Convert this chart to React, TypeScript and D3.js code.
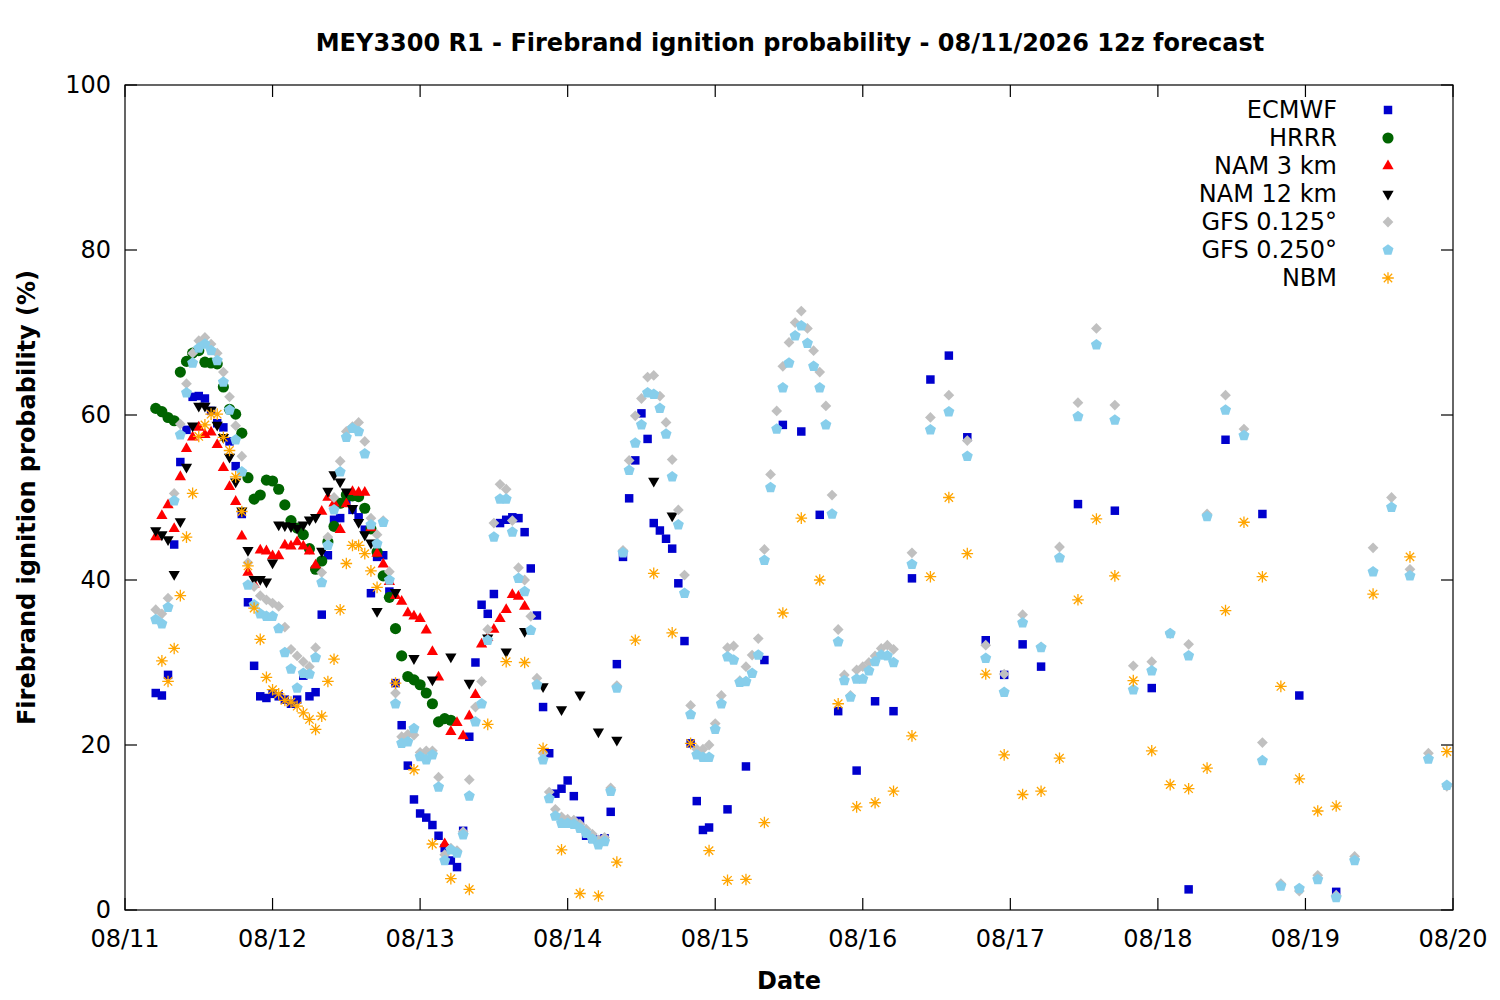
import React, { useEffect, useRef } from 'react';
import * as d3 from 'd3';

// forecast lead hours counted from 08/11 00:00 local (12z run = 05 local)
const ECMWF_HOURS = [...d3.range(5, 96), ...d3.range(98, 150, 3), ...d3.range(155, 198, 6)];
const HRRR_HOURS = d3.range(5, 54);
const NAM3_HOURS = d3.range(5, 66);
const NAM12_HOURS = [...d3.range(5, 42), ...d3.range(44, 90, 3)];
const GFS_HOURS = [...d3.range(5, 126), ...d3.range(128, 216, 3)];
const NBM_HOURS = [...d3.range(6, 42), ...d3.range(44, 198, 3), ...d3.range(203, 216, 6)];

const ECMWF = [
  26.3, 26.0, 28.5, 44.3, 54.3, 58.2, 62.2, 62.3, 62.0, 60.5,
  59.0, 58.5, 56.8, 53.8, 48.0, 37.3, 29.6, 25.9, 25.7, 26.2,
  25.9, 25.5, 25.0, 25.5, 28.4, 25.9, 26.4, 35.8, 43.0, 47.3,
  47.5, 49.6, 48.5, 47.6, 46.1, 38.4, 42.8, 43.0, 38.6, 27.5,
  22.4, 17.5, 13.4, 11.7, 11.2, 10.3, 9.0, 7.5, 6.0, 5.2,
  9.6, 21.0, 30.0, 37.0, 35.9, 38.3, 46.9, 47.3, 47.6, 47.5,
  45.8, 41.4, 35.7, 24.6, 19.0, 14.1, 14.7, 15.7, 13.8, 10.8,
  9.0, 8.7, 8.5, 8.7, 11.9, 29.8, 42.8, 49.9, 54.5, 60.2,
  57.1, 46.9, 46.0, 45.0, 43.8, 39.6, 32.6, 20.2, 13.2, 9.7,
  10.0,
  12.2, 17.4, 30.3, 58.8, 58.0, 47.9, 24.1, 16.9, 25.3, 24.1,
  40.2, 64.3, 67.2, 57.3, 32.7, 28.5, 32.2, 29.5,
  49.2, 48.4, 26.9, 2.5, 57.0, 48.0, 26.0, 2.2,
];

const HRRR = [
  60.8, 60.4, 59.7, 59.3, 65.2, 66.5, 67.5, 67.8, 66.4, 66.3,
  66.2, 63.4, 60.7, 60.1, 57.8, 52.4, 49.8, 50.3, 52.1, 52.0,
  51.0, 49.1, 47.2, 46.3, 45.5, 43.8, 41.3, 42.3, 44.6, 46.5,
  49.3, 50.3, 50.2, 50.1, 48.7, 46.2, 43.4, 40.5, 37.9, 34.1,
  30.8, 28.3, 27.9, 27.3, 26.3, 25.0, 22.8, 23.2, 23.0,
];

const NAM3 = [
  45.2, 47.8, 49.1, 46.2, 52.5, 55.9, 57.3, 58.5, 57.6, 57.9,
  56.4, 53.6, 51.3, 49.5, 45.3, 40.9, 39.5, 43.6, 43.5, 42.9,
  42.9, 44.2, 44.1, 44.6, 44.1, 43.5, 41.8, 48.3, 50.0, 49.3,
  46.1, 49.2, 50.7, 50.6, 50.6, 46.3, 43.2, 41.9, 39.8, 38.1,
  37.4, 36.0, 35.6, 35.3, 33.9, 31.3, 28.2, 8.0, 21.6, 22.7,
  21.1, 23.5, 26.1, 32.2, 33.0, 34.0, 35.3, 36.4, 38.2, 38.0, 36.8,
];

const NAM12 = [
  46.0, 45.5, 44.9, 40.7, 47.1, 53.7, 58.7, 61.1, 61.1, 60.6,
  58.8, 57.3, 54.9, 51.9, 48.4, 43.6, 40.1, 40.1, 39.8, 42.1,
  46.7, 46.6, 46.5, 46.3, 46.7, 47.3, 47.6, 43.5, 50.8, 52.8,
  51.9, 50.7, 48.7, 47.0, 45.5, 44.5, 36.2,
  38.5, 30.5, 27.9, 30.7, 27.5, 33.0, 31.3, 33.8, 27.1, 24.3,
  26.1, 21.6, 20.6, null, 52.0, 47.8,
];

const GFS_0125 = [
  36.4, 35.9, 37.8, 50.5, 58.9, 63.8, 67.5, 69.0, 69.4, 68.6,
  67.5, 65.2, 62.2, 58.7, 55.0, 42.1, 39.2, 38.1, 37.6, 37.2,
  36.8, 34.3, 31.6, 30.8, 30.1, 29.5, 31.8, 40.9, 45.2, 50.0,
  54.4, 58.0, 58.6, 59.1, 56.8, 47.5, 45.5, 47.2, 41.0, 26.3,
  21.0, 21.3, 21.2, 19.1, 19.3, 19.3, 16.1, 6.7, 7.5, 7.2,
  9.5, 15.8, 24.6, 27.7, 34.0, 46.9, 51.6, 51.0, 47.2, 41.5,
  40.0, 35.6, 28.1, 19.0, 14.3, 12.2, 11.3, 11.0, 10.9, 10.4,
  9.8, 9.2, 8.5, 8.8, 14.8, 27.2, 43.6, 54.5, 59.9, 62.0,
  64.6, 64.8, 62.3, 59.1, 54.6, 48.5, 40.6, 24.8, 19.5, 19.5,
  20.0, 22.6, 26.0, 31.8, 32.0, 27.8, 29.5, 30.9, 32.9, 43.7,
  52.8, 60.5, 65.9, 68.8, 71.2, 72.6, 70.5, 67.8, 65.2, 61.1,
  50.3, 34.0, 28.5, 26.0, 29.1, 29.5, 30.0, 30.8, 31.7, 32.1, 31.6,
  43.3, 59.7, 62.4, 56.9, 32.1, 28.6, 35.8, 31.9, 44.0, 61.5,
  70.5, 61.2, 29.6, 30.1, 33.5, 32.2, 48.0, 62.4, 58.3, 20.3,
  3.2, 2.3, 4.2, 1.8, 6.5, 43.9, 50.0, 41.3, 19.0, 15.0,
];

const GFS_0250 = [
  35.2, 34.7, 36.7, 49.6, 57.6, 62.7, 66.3, 68.1, 68.6, 67.8,
  66.6, 64.0, 60.6, 57.0, 53.1, 39.4, 37.0, 35.9, 35.6, 35.6,
  34.1, 31.2, 29.2, 26.9, 28.7, 28.6, 30.6, 39.7, 44.2, 48.5,
  53.1, 57.3, 58.4, 58.0, 55.3, 46.7, 44.4, 47.0, 40.0, 25.0,
  20.2, 20.4, 22.0, 18.6, 18.2, 18.8, 14.9, 6.0, 7.3, 6.9,
  9.1, 13.8, 22.8, 25.0, 32.7, 45.2, 49.8, 49.8, 45.8, 40.2,
  38.6, 33.9, 27.3, 18.2, 13.5, 11.4, 10.5, 10.5, 10.4, 9.9,
  9.3, 8.6, 7.9, 8.3, 14.4, 26.9, 43.3, 53.3, 56.6, 58.8,
  62.7, 62.5, 60.8, 57.7, 52.5, 46.7, 38.4, 23.7, 18.8, 18.5,
  18.5, 21.9, 25.0, 30.7, 30.3, 27.6, 27.7, 28.7, 30.9, 42.4,
  51.2, 58.3, 63.3, 66.3, 69.6, 70.8, 68.7, 65.9, 63.3, 58.8,
  48.0, 32.5, 27.8, 25.8, 28.0, 28.0, 29.0, 30.1, 30.9, 30.8, 30.0,
  41.9, 58.2, 60.4, 55.0, 30.5, 26.4, 34.8, 31.8, 42.7, 59.8,
  68.5, 59.4, 26.7, 29.0, 33.5, 30.8, 47.7, 60.6, 57.5, 18.1,
  2.9, 2.6, 3.7, 1.5, 6.0, 41.0, 48.8, 40.5, 18.3, 15.1,
];

const NBM = [
  30.2, 27.7, 31.7, 38.1, 45.2, 50.5, 57.4, 58.8, 60.1, 60.1,
  57.3, 55.7, 52.5, 48.3, 41.7, 36.6, 32.8, 28.2, 26.7, 26.2,
  25.4, 25.2, 24.7, 23.9, 23.1, 21.9, 23.5, 27.7, 30.4, 36.4,
  42.0, 44.2, 44.2, 43.2, 41.1, 39.1,
  27.5, 17.0, 8.0, 3.8, 2.5, 22.5, 30.1, 30.0, 19.6, 7.3,
  2.0, 1.7, 5.8, 32.7, 40.8, 33.6, 20.2, 7.2, 3.6, 3.7,
  10.6, 36.0, 47.5, 40.0, 25.0, 12.5, 13.0, 14.4, 21.1, 40.4,
  50.0, 43.2, 28.6, 18.8, 14.0, 14.4, 18.4, 37.6, 47.4, 40.5,
  27.8, 19.3, 15.2, 14.7, 17.2, 36.3, 47.0, 40.4, 27.1, 15.9,
  12.0, 12.6,
  38.3, 42.8, 19.2,
];

const DAY_LABELS = ['08/11', '08/12', '08/13', '08/14', '08/15', '08/16', '08/17', '08/18', '08/19', '08/20'];
const Y_TICKS = [0, 20, 40, 60, 80, 100];

const SERIES = [
  { name: 'ECMWF', hours: ECMWF_HOURS, values: ECMWF, color: '#0000cd', shape: 'square' },
  { name: 'HRRR', hours: HRRR_HOURS, values: HRRR, color: '#006400', shape: 'circle' },
  { name: 'NAM 3 km', hours: NAM3_HOURS, values: NAM3, color: '#ff0000', shape: 'triangle' },
  { name: 'NAM 12 km', hours: NAM12_HOURS, values: NAM12, color: '#000000', shape: 'triangleDown' },
  { name: 'GFS 0.125°', hours: GFS_HOURS, values: GFS_0125, color: '#c0c0c0', shape: 'diamond' },
  { name: 'GFS 0.250°', hours: GFS_HOURS, values: GFS_0250, color: '#87ceeb', shape: 'pentagon' },
  { name: 'NBM', hours: NBM_HOURS, values: NBM, color: '#ffa500', shape: 'asterisk' },
];

const W = 1500;
const H = 1000;
const margin = { top: 85, right: 47, bottom: 90, left: 125 };
const FONT = 'DejaVu Sans, sans-serif';

function shapePath(shape: string): string {
  switch (shape) {
    case 'square':
      return d3.symbol(d3.symbolSquare, 72)() as string;
    case 'circle':
      return d3.symbol(d3.symbolCircle, 98)() as string;
    case 'triangle':
    case 'triangleDown':
      return d3.symbol(d3.symbolTriangle, 55)() as string;
    case 'diamond':
      return d3.symbol(d3.symbolSquare, 58)() as string;
    case 'pentagon': {
      const r = 5.8;
      const pts = d3.range(5).map(k => {
        const a = -Math.PI / 2 + (k * 2 * Math.PI) / 5;
        return [r * Math.cos(a), r * Math.sin(a)];
      });
      return 'M' + pts.map(p => p.join(',')).join('L') + 'Z';
    }
    default: {
      const r = 5.8;
      const d = r * 0.72;
      return `M${-r},0L${r},0M0,${-r}L0,${r}M${-d},${-d}L${d},${d}M${-d},${d}L${d},${-d}`;
    }
  }
}

function rotation(shape: string): string {
  if (shape === 'triangleDown') return ' rotate(180)';
  if (shape === 'diamond') return ' rotate(45)';
  return '';
}

export default function App() {
  const svgRef = useRef<SVGSVGElement>(null);

  useEffect(() => {
    document.body.style.margin = '0';
    const svg = d3.select(svgRef.current);
    svg.selectAll('*').remove();

    const start = new Date(Date.UTC(2026, 7, 11));
    const end = new Date(Date.UTC(2026, 7, 20));
    const x = d3.scaleUtc().domain([start, end]).range([margin.left, W - margin.right]);
    const y = d3.scaleLinear().domain([0, 100]).range([H - margin.bottom, margin.top]);
    const tAt = (h: number) => new Date(start.getTime() + h * 3600e3);

    svg.append('rect').attr('width', W).attr('height', H).attr('fill', 'white');

    // title
    svg.append('text')
      .attr('x', 790).attr('y', 51)
      .attr('text-anchor', 'middle')
      .style('font-family', FONT).style('font-size', '24px').style('font-weight', 'bold')
      .text('MEY3300 R1 - Firebrand ignition probability - 08/11/2026 12z forecast');

    // points
    const plot = svg.append('g');
    SERIES.forEach(s => {
      const pts = s.hours
        .map((h, i) => ({ t: tAt(h), v: s.values[i] }))
        .filter(p => p.v !== null && p.v !== undefined);
      const isStar = s.shape === 'asterisk';
      plot.append('g')
        .selectAll('path')
        .data(pts)
        .join('path')
        .attr('d', shapePath(s.shape))
        .attr('transform', d => `translate(${x(d.t)},${y(d.v as number)})${rotation(s.shape)}`)
        .attr('fill', isStar ? 'none' : s.color)
        .attr('stroke', isStar ? s.color : 'none')
        .attr('stroke-width', isStar ? 1.3 : 0);
    });

    // axes frame and ticks
    const x0 = margin.left, x1 = W - margin.right, y0 = H - margin.bottom, y1 = margin.top;
    const axis = svg.append('g').attr('stroke', 'black').attr('stroke-width', 1.2);
    axis.append('rect')
      .attr('x', x0).attr('y', y1).attr('width', x1 - x0).attr('height', y0 - y1)
      .attr('fill', 'none');

    const days = d3.utcDay.range(start, d3.utcDay.offset(end, 1));
    days.forEach(d => {
      axis.append('line').attr('x1', x(d)).attr('x2', x(d)).attr('y1', y0).attr('y2', y0 - 12);
      axis.append('line').attr('x1', x(d)).attr('x2', x(d)).attr('y1', y1).attr('y2', y1 + 12);
    });
    Y_TICKS.forEach(v => {
      axis.append('line').attr('x1', x0).attr('x2', x0 + 12).attr('y1', y(v)).attr('y2', y(v));
      axis.append('line').attr('x1', x1).attr('x2', x1 - 12).attr('y1', y(v)).attr('y2', y(v));
    });

    const labels = svg.append('g').style('font-family', FONT).style('font-size', '24px');
    days.forEach((d, i) => {
      labels.append('text')
        .attr('x', x(d)).attr('y', y0 + 37)
        .attr('text-anchor', 'middle')
        .text(DAY_LABELS[i]);
    });
    Y_TICKS.forEach(v => {
      labels.append('text')
        .attr('x', x0 - 14).attr('y', y(v))
        .attr('text-anchor', 'end').attr('dominant-baseline', 'central')
        .text(String(v));
    });

    svg.append('text')
      .attr('x', (x0 + x1) / 2).attr('y', 989)
      .attr('text-anchor', 'middle')
      .style('font-family', FONT).style('font-size', '24px').style('font-weight', 'bold')
      .text('Date');

    svg.append('text')
      .attr('transform', `translate(27,${(y0 + y1) / 2}) rotate(-90)`)
      .attr('text-anchor', 'middle').attr('dominant-baseline', 'central')
      .style('font-family', FONT).style('font-size', '24px').style('font-weight', 'bold')
      .text('Firebrand ignition probability (%)');

    // legend
    const legend = svg.append('g');
    SERIES.forEach((s, i) => {
      const ly = 110 + i * 28;
      legend.append('text')
        .attr('x', 1337).attr('y', ly)
        .attr('text-anchor', 'end').attr('dominant-baseline', 'central')
        .style('font-family', FONT).style('font-size', '24px')
        .text(s.name);
      const isStar = s.shape === 'asterisk';
      legend.append('path')
        .attr('d', shapePath(s.shape))
        .attr('transform', `translate(1388,${ly})${rotation(s.shape)}`)
        .attr('fill', isStar ? 'none' : s.color)
        .attr('stroke', isStar ? s.color : 'none')
        .attr('stroke-width', isStar ? 1.3 : 0);
    });
  }, []);

  return <svg ref={svgRef} width={W} height={H} style={{ display: 'block' }} />;
}
